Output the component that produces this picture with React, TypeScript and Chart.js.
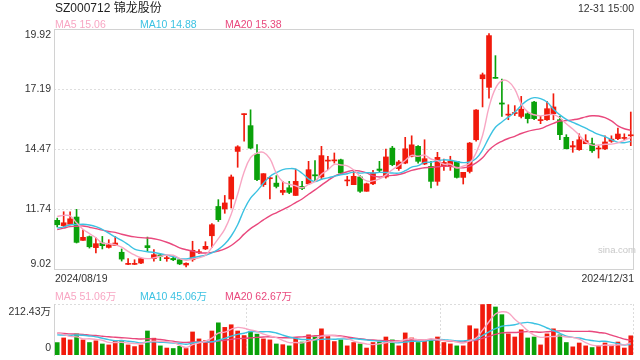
import React, { useEffect, useRef } from "react";
import { Chart, registerables } from "chart.js";

Chart.register(...registerables);

// ---- data ----
const dates: string[] = [
  "2024/08/19","2024/08/20","2024/08/21","2024/08/22","2024/08/23","2024/08/26","2024/08/27","2024/08/28","2024/08/29","2024/08/30",
  "2024/09/02","2024/09/03","2024/09/04","2024/09/05","2024/09/06","2024/09/09","2024/09/10","2024/09/11","2024/09/12","2024/09/13",
  "2024/09/18","2024/09/19","2024/09/20","2024/09/23","2024/09/24","2024/09/25","2024/09/26","2024/09/27","2024/09/30","2024/10/08",
  "2024/10/09","2024/10/10","2024/10/11","2024/10/14","2024/10/15","2024/10/16","2024/10/17","2024/10/18","2024/10/21","2024/10/22",
  "2024/10/23","2024/10/24","2024/10/25","2024/10/28","2024/10/29","2024/10/30","2024/10/31","2024/11/01","2024/11/04","2024/11/05",
  "2024/11/06","2024/11/07","2024/11/08","2024/11/11","2024/11/12","2024/11/13","2024/11/14","2024/11/15","2024/11/18","2024/11/19",
  "2024/11/20","2024/11/21","2024/11/22","2024/11/25","2024/11/26","2024/11/27","2024/11/28","2024/11/29","2024/12/02","2024/12/03",
  "2024/12/04","2024/12/05","2024/12/06","2024/12/09","2024/12/10","2024/12/11","2024/12/12","2024/12/13","2024/12/16","2024/12/17",
  "2024/12/18","2024/12/19","2024/12/20","2024/12/23","2024/12/24","2024/12/25","2024/12/26","2024/12/27","2024/12/30","2024/12/31",
];

const opens: number[] = [
  11.23,10.99,11.05,11.38,10.32,10.49,9.99,10.20,10.00,10.09,
  9.78,9.23,9.23,9.29,10.08,9.49,9.66,9.49,9.50,9.44,
  9.20,9.44,9.76,9.93,10.53,11.86,11.75,12.20,14.36,16.03,
  15.53,14.24,12.85,13.12,12.92,12.50,12.71,12.36,12.77,12.89,
  13.30,13.20,13.92,13.93,13.98,13.02,12.85,13.20,12.55,12.89,
  13.56,13.20,14.51,13.58,13.83,14.14,14.59,13.79,13.68,13.00,
  13.68,13.68,13.91,13.18,13.45,14.89,17.66,17.27,17.72,16.56,
  16.01,16.08,15.95,16.07,16.60,15.76,15.80,16.07,15.80,15.00,
  14.56,14.44,14.71,14.71,14.47,14.48,14.82,14.94,14.95,15.07,
];
const highs: number[] = [
  11.33,11.62,11.62,11.73,10.80,10.52,10.43,10.50,10.35,10.50,
  9.93,9.49,9.44,9.52,10.47,9.90,9.72,9.60,9.60,9.50,
  9.30,10.28,9.90,10.26,11.08,12.17,12.36,13.29,14.62,16.07,
  16.25,14.67,13.35,13.20,13.26,13.00,13.00,13.56,13.00,13.91,
  13.94,14.59,14.14,14.29,14.01,13.23,13.45,13.26,12.92,13.50,
  13.91,14.47,14.59,13.95,15.00,15.07,14.62,14.89,13.91,14.32,
  14.01,14.14,13.91,13.41,14.77,16.26,17.92,19.71,18.71,17.65,
  16.48,16.44,16.86,16.13,16.63,15.95,16.63,16.98,15.95,15.12,
  14.82,15.16,15.12,14.97,14.62,15.07,15.07,15.42,15.16,16.15,
];
const lows: number[] = [
  10.93,10.93,11.02,10.20,10.32,9.97,9.75,9.93,9.97,10.08,
  9.38,9.22,9.22,9.26,9.81,9.37,9.40,9.37,9.40,9.22,
  9.11,9.37,9.72,9.90,10.00,11.18,11.55,11.79,13.64,14.82,
  14.48,13.03,12.77,12.20,12.70,12.39,12.44,12.36,12.62,12.85,
  13.00,13.08,13.53,13.83,13.35,12.80,12.85,12.50,12.55,12.85,
  13.41,13.15,13.71,13.50,13.80,14.11,13.83,13.76,12.70,12.82,
  13.50,13.50,13.15,12.88,13.38,14.82,16.38,16.78,17.68,15.95,
  15.80,15.99,15.88,15.65,15.80,15.62,15.77,15.80,14.89,14.48,
  14.32,14.41,14.71,14.32,14.06,14.44,14.77,14.89,14.89,14.62,
];
const closes: number[] = [
  11.03,11.12,11.30,10.23,10.46,10.03,10.17,10.08,10.12,10.20,
  9.47,9.25,9.25,9.49,9.99,9.67,9.60,9.52,9.44,9.25,
  9.28,9.87,9.79,10.05,11.03,11.26,12.02,13.20,14.57,16.07,
  14.51,13.08,13.35,13.14,12.77,12.59,12.50,13.00,12.68,13.53,
  13.25,14.17,13.96,13.96,13.38,13.05,13.23,12.55,12.89,13.38,
  13.50,14.11,13.76,13.88,14.48,14.66,13.91,14.03,13.00,14.09,
  13.86,13.91,13.18,13.41,14.74,16.24,17.84,19.62,17.68,16.51,
  16.03,16.11,16.28,15.85,15.85,15.79,16.30,16.38,15.12,14.48,
  14.62,14.89,14.85,14.39,14.50,14.79,14.92,15.15,14.97,15.10,
];
// volume, in 万 shares
const volumes: number[] = [
  51.7,71,63,88,63,52,59,46,42,60,
  59,42,35,42,100,70,38,29,27,36,
  27,96,67,60,100,134,115,126,100,81,
  98,87,67,63,46,43,38,71,54,84,
  75,109,80,56,63,38,52,46,29,52,
  54,75,63,38,92,71,52,60,63,75,
  52,46,38,38,122,109,210,212.43,200,168,
  88,75,105,71,75,42,88,109,84,52,
  34,50,38,31,38,50,41,54,29,80,
];
// sessions before the visible window (needed for the moving averages)
const priorCloses: number[] = [9.8,9.9,10.0,10.1,11.2,11.4,11.5,11.3,11.1,11.1,10.6,10.3,10.2,10.3,10.35,10.9,11.4,11.8,11.92];
const priorVolumes: number[] = [95,100,105,90,110,95,100,92,98,95,80,75,72,78,80,95,105,100,103];

const priceTicks: number[] = [19.92, 17.19, 14.47, 11.74, 9.02];
const volumeTicks: number[] = [212.43, 0];
const volumeTickLabels: string[] = ["212.43万", "0"];

const title = "SZ000712 锦龙股份";
const timeLabel = "12-31 15:00";
const priceLegend: string[] = ["MA5 15.06", "MA10 14.88", "MA20 15.38"];
const volumeLegend: string[] = ["MA5 51.06万", "MA10 45.06万", "MA20 62.67万"];
const startLabel = "2024/08/19";
const endLabel = "2024/12/31";

// ---- style ----
const RED = "#f11a0c";
const GREEN = "#0aa10a";
const MA_COLORS = ["#f8a6c3", "#3cc2e2", "#e9487d"];
const FONT = '"Liberation Sans", Arial, "Noto Sans CJK SC", sans-serif';

function movingAverage(history: number[], values: number[], n: number): number[] {
  const all = history.concat(values);
  const off = history.length;
  return values.map((_, i) => {
    let s = 0;
    for (let k = off + i - n + 1; k <= off + i; k++) s += all[k];
    return s / n;
  });
}

const priceFrame = {
  id: "priceFrame",
  beforeDatasetsDraw(chart: any) {
    const { ctx, chartArea, scales } = chart;
    const { left, right, top, bottom } = chartArea;
    const y = scales.y;
    ctx.save();
    ctx.lineWidth = 1;
    ctx.strokeStyle = "#dedede";
    ctx.setLineDash([2, 2]);
    for (const v of priceTicks) {
      const py = Math.round(y.getPixelForValue(v)) + 0.5;
      if (py - top < 2 || bottom - py < 2) continue;
      ctx.beginPath();
      ctx.moveTo(left, py);
      ctx.lineTo(right, py);
      ctx.stroke();
    }
    ctx.setLineDash([]);
    ctx.strokeStyle = "#d2d2d2";
    ctx.strokeRect(Math.round(left) + 0.5, Math.round(top) + 0.5, Math.round(right - left) - 1, Math.round(bottom - top));
    ctx.fillStyle = "#333";
    ctx.font = "10.5px " + FONT;
    ctx.textAlign = "right";
    ctx.textBaseline = "middle";
    for (const v of priceTicks) {
      let py = y.getPixelForValue(v);
      py = Math.min(Math.max(py, top + 6), bottom - 5);
      ctx.fillText(v.toFixed(2), left - 3, py);
    }
    ctx.restore();
  },
};

const volumeFrame = {
  id: "volumeFrame",
  beforeDatasetsDraw(chart: any) {
    const { ctx, chartArea, scales } = chart;
    const { left, right, top, bottom } = chartArea;
    const y = scales.y;
    ctx.save();
    ctx.lineWidth = 1;
    ctx.strokeStyle = "#dcdcdc";
    ctx.setLineDash([2, 2]);
    const t = Math.round(top) + 0.5;
    ctx.beginPath();
    ctx.moveTo(left, t);
    ctx.lineTo(right, t);
    ctx.stroke();
    const w = right - left;
    for (const f of [1 / 3, 2 / 3, 1]) {
      const px = Math.round(left + w * f) - 0.5;
      ctx.beginPath();
      ctx.moveTo(px, top);
      ctx.lineTo(px, bottom + 1);
      ctx.stroke();
    }
    ctx.setLineDash([]);
    ctx.strokeStyle = "#d2d2d2";
    ctx.beginPath();
    ctx.moveTo(Math.round(left) + 0.5, top);
    ctx.lineTo(Math.round(left) + 0.5, bottom + 1);
    ctx.stroke();
    ctx.fillStyle = "#333";
    ctx.font = "10.5px " + FONT;
    ctx.textAlign = "right";
    ctx.textBaseline = "middle";
    volumeTicks.forEach((v, i) => {
      let py = y.getPixelForValue(v);
      py = Math.min(Math.max(py, top + 8), bottom - 7);
      ctx.fillText(volumeTickLabels[i], left - 3, py);
    });
    ctx.restore();
  },
};

export default function App() {
  const priceRef = useRef<HTMLCanvasElement>(null);
  const volRef = useRef<HTMLCanvasElement>(null);

  useEffect(() => {
    document.body.style.margin = "0";
    const colors = closes.map((c, i) => (c >= opens[i] ? RED : GREEN));
    const pMA = [5, 10, 20].map((n) => movingAverage(priorCloses, closes, n));
    const vMA = [5, 10, 20].map((n) => movingAverage(priorVolumes, volumes, n));

    const lineDs = (data: number[], i: number) => ({
      type: "line" as const,
      data,
      borderColor: MA_COLORS[i],
      borderWidth: 1.4,
      pointRadius: 0,
      tension: 0.4,
      fill: false,
      order: i,
    });

    const price = new Chart(priceRef.current!, {
      type: "bar",
      data: {
        labels: dates,
        datasets: [
          lineDs(pMA[0], 0),
          lineDs(pMA[1], 1),
          lineDs(pMA[2], 2),
          {
            type: "bar",
            data: opens.map((o, i) => [o, closes[i]]) as any,
            backgroundColor: colors,
            barThickness: 5,
            minBarLength: 1,
            grouped: false,
            order: 5,
          },
          {
            type: "bar",
            data: lows.map((l, i) => [l, highs[i]]) as any,
            backgroundColor: colors,
            barThickness: 1,
            grouped: false,
            order: 6,
          },
        ],
      } as any,
      options: {
        responsive: false,
        animation: false,
        devicePixelRatio: 1,
        events: [],
        layout: { padding: { left: 54, right: 6, top: 29, bottom: 91 } },
        plugins: { legend: { display: false }, tooltip: { enabled: false } },
        scales: {
          x: { type: "category", display: false, offset: true },
          y: { display: false, min: 9.02, max: 19.92 },
        },
      } as any,
      plugins: [priceFrame],
    });

    const vol = new Chart(volRef.current!, {
      type: "bar",
      data: {
        labels: dates,
        datasets: [
          lineDs(vMA[0], 0),
          lineDs(vMA[1], 1),
          lineDs(vMA[2], 2),
          {
            type: "bar",
            data: volumes,
            backgroundColor: colors,
            barThickness: 4,
            grouped: false,
            order: 5,
          },
        ],
      } as any,
      options: {
        responsive: false,
        animation: false,
        devicePixelRatio: 1,
        events: [],
        layout: { padding: { left: 54, right: 6, top: 304, bottom: 5 } },
        plugins: { legend: { display: false }, tooltip: { enabled: false } },
        scales: {
          x: { type: "category", display: false, offset: true },
          y: { display: false, min: 0, max: 212.43 },
        },
      } as any,
      plugins: [volumeFrame],
    });

    return () => {
      price.destroy();
      vol.destroy();
    };
  }, []);

  const txt = (extra: React.CSSProperties): React.CSSProperties => ({
    position: "absolute",
    fontFamily: FONT,
    fontSize: "10.5px",
    lineHeight: "14px",
    whiteSpace: "nowrap",
    color: "#333",
    ...extra,
  });
  const legendX = [55, 140, 225];

  return (
    <div style={{ position: "relative", width: 640, height: 360, overflow: "hidden", background: "#fff" }}>
      <canvas ref={priceRef} width={640} height={360} style={{ position: "absolute", left: 0, top: 0, display: "block" }} />
      <canvas ref={volRef} width={640} height={360} style={{ position: "absolute", left: 0, top: 0, display: "block" }} />
      <div style={txt({ left: 55, top: 0, fontSize: "12px", lineHeight: "16px", color: "#222" })}>{title}</div>
      <div style={txt({ right: 6, top: 1 })}>{timeLabel}</div>
      {priceLegend.map((s, i) => (
        <div key={"p" + i} style={txt({ left: legendX[i], top: 16.5, color: MA_COLORS[i] })}>{s}</div>
      ))}
      <div style={txt({ left: 55, top: 270.5 })}>{startLabel}</div>
      <div style={txt({ right: 6, top: 270.5 })}>{endLabel}</div>
      {volumeLegend.map((s, i) => (
        <div key={"v" + i} style={txt({ left: legendX[i], top: 288.5, color: MA_COLORS[i] })}>{s}</div>
      ))}
      <div style={txt({ left: 598, top: 243, fontSize: "9.5px", color: "#c8c8c8" })}>sina.com</div>
    </div>
  );
}
